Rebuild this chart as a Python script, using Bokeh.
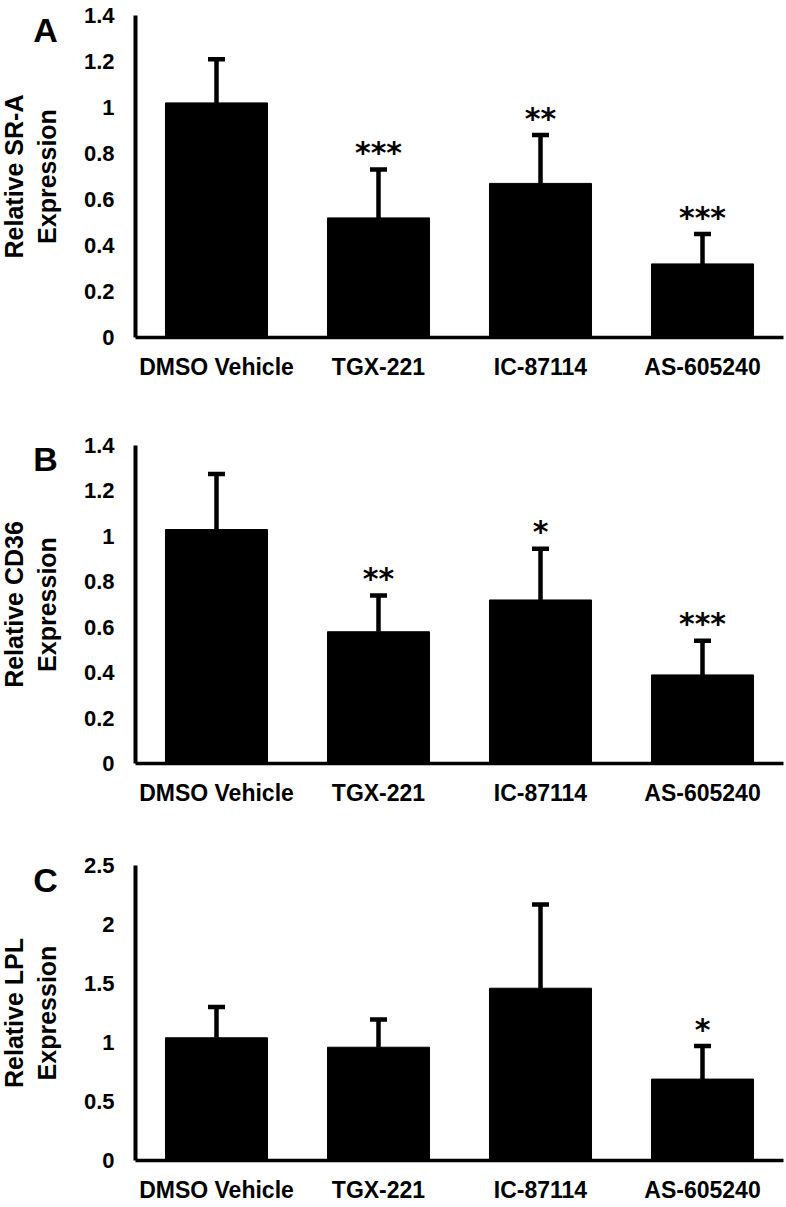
import math
from bokeh.plotting import figure
from bokeh.models import ColumnDataSource, Whisker, TeeHead, Label, FixedTicker, Range1d
from bokeh.layouts import column, row
from bokeh.embed import file_html
from bokeh.resources import INLINE
from bokeh.core.properties import value

categories = ["DMSO Vehicle", "TGX-221", "IC-87114", "AS-605240"]

sra_mean = [1.02, 0.52, 0.67, 0.32]
sra_err = [0.19, 0.21, 0.21, 0.13]
sra_sig = ["", "***", "**", "***"]
sra_ticks = [0, 0.2, 0.4, 0.6, 0.8, 1, 1.2, 1.4]
sra_tick_labels = ["0", "0.2", "0.4", "0.6", "0.8", "1", "1.2", "1.4"]

cd36_mean = [1.03, 0.58, 0.72, 0.39]
cd36_err = [0.245, 0.16, 0.225, 0.15]
cd36_sig = ["", "**", "*", "***"]
cd36_ticks = [0, 0.2, 0.4, 0.6, 0.8, 1, 1.2, 1.4]
cd36_tick_labels = ["0", "0.2", "0.4", "0.6", "0.8", "1", "1.2", "1.4"]

lpl_mean = [1.04, 0.96, 1.46, 0.69]
lpl_err = [0.26, 0.235, 0.71, 0.28]
lpl_sig = ["", "", "", "*"]
lpl_ticks = [0, 0.5, 1, 1.5, 2, 2.5]
lpl_tick_labels = ["0", "0.5", "1", "1.5", "2", "2.5"]

FONT = "Liberation Sans"
LEFT_W = 70
MAIN_W = 714


def make_panel(letter, ylabel, mean, err, sig, ticks, tick_labels, height, top, bottom, letter_y):
    upper = [m + e for m, e in zip(mean, err)]
    src = ColumnDataSource(dict(cat=categories, mean=mean, upper=upper, sig=sig))
    p = figure(x_range=categories, y_range=Range1d(0, ticks[-1]), width=MAIN_W, height=height,
               output_backend="svg", toolbar_location=None, title=None,
               min_border_left=135 - LEFT_W, min_border_right=1,
               min_border_top=top, min_border_bottom=bottom)
    p.x_range.range_padding = 0
    p.outline_line_color = None
    p.xgrid.grid_line_color = None
    p.ygrid.grid_line_color = None

    p.vbar(x="cat", top="mean", width=0.63, source=src, fill_color="black", line_color="black")
    w = Whisker(source=src, base="cat", upper="upper", lower="mean", dimension="height",
                line_width=4.5, line_color="black",
                upper_head=TeeHead(size=17, line_width=4.5, line_color="black"), lower_head=None)
    p.add_layout(w)
    p.text(x="cat", y="upper", text="sig", source=src, text_font=value("DejaVu Sans"),
           text_font_style="bold", text_font_size="30px", text_align="center",
           text_baseline="alphabetic", text_color="black", y_offset=-17)

    for ax in (p.xaxis[0], p.yaxis[0]):
        ax.axis_line_color = "black"
        ax.major_tick_line_color = None
        ax.minor_tick_line_color = None
        ax.major_label_text_font = FONT
        ax.major_label_text_font_style = "bold"
        ax.major_label_text_color = "black"
    p.xaxis.axis_line_width = 3.5
    p.yaxis.axis_line_width = 4
    p.xaxis.major_label_text_font_size = "23px"
    p.xaxis.major_label_standoff = 10
    p.yaxis.major_label_text_font_size = "22px"
    p.yaxis.major_label_standoff = 15
    p.yaxis.ticker = FixedTicker(ticks=ticks)
    p.yaxis.major_label_overrides = {t: l for t, l in zip(ticks, tick_labels)}

    # left strip holding the panel letter and the two-line y-axis title.
    # Its frame is aligned by the row with the chart's frame, so its y range is
    # expressed as pixels from the top of the strip over that same frame span.
    frame_mid = top + (height - top - bottom) / 2.0
    q = figure(width=LEFT_W, height=height, x_range=Range1d(0, LEFT_W),
               y_range=Range1d(height - bottom, top),
               output_backend="svg", toolbar_location=None, title=None,
               x_axis_location=None, y_axis_location=None,
               min_border_left=0, min_border_right=0, min_border_top=0, min_border_bottom=0)
    q.outline_line_color = None
    q.xgrid.grid_line_color = None
    q.ygrid.grid_line_color = None
    q.add_layout(Label(x=45, y=letter_y, text=letter, text_font=FONT,
                       text_font_style="bold", text_font_size="34px", text_align="center",
                       text_baseline="middle", text_color="black"))
    q.add_layout(Label(x=30, y=frame_mid, text=ylabel, angle=math.pi / 2, text_font=FONT,
                       text_font_style="bold", text_font_size="25px", text_align="center",
                       text_baseline="middle", text_color="black", text_line_height=1.2))
    return row(q, p, spacing=0)


pa = make_panel("A", "Relative SR-A\nExpression", sra_mean, sra_err, sra_sig,
                sra_ticks, sra_tick_labels, 400, 15, 63, 29)
pb = make_panel("B", "Relative CD36\nExpression", cd36_mean, cd36_err, cd36_sig,
                cd36_ticks, cd36_tick_labels, 408, 45, 41, 59)
pc = make_panel("C", "Relative LPL\nExpression", lpl_mean, lpl_err, lpl_sig,
                lpl_ticks, lpl_tick_labels, 397, 57, 45, 71)

layout = column(pa, pb, pc, spacing=0)
open("out.html", "w").write(file_html(layout, INLINE))
